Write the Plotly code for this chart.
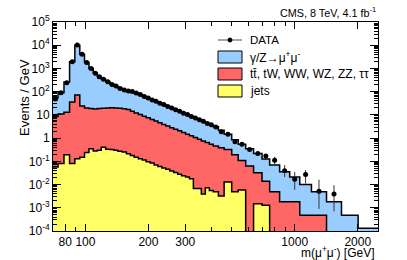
import math
import plotly.graph_objects as go

# ---------------- data ----------------
edges = [70, 74, 79, 84, 89, 94, 99, 104, 109, 114, 119, 125, 131, 137, 143, 150, 157, 164,
         171, 179, 187, 195, 204, 213, 222, 232, 242, 253, 264, 276, 288, 301, 314, 328, 343, 358,
         374, 391, 408, 432, 460, 500, 537, 583, 636, 698, 759, 847, 946, 1057, 1202, 1419, 1673,
         2009, 2500]

dy = [46.5, 79, 247, 1914, 9928, 3976, 1780, 981, 612, 431, 320.5, 250, 189.5, 155, 120.5, 101.5,
      91, 85.5, 75.8, 63.6, 54.2, 46.5, 38.6, 32.6, 27.9, 23.7, 20.1, 17.1, 14.3, 12.15, 10.25,
      8.73, 7.35, 6.24, 5.3, 4.44, 3.75, 3.15, 2.64, 1.82, 1.13, 0.66, 0.44, 0.287, 0.188, 0.111,
      0.0641, 0.0342, 0.0192, 0.00952, 0.00442, 0.0018, 0.00048, 0.00013]

ewk = [8.44, 10.92, 12.81, 35.9, 71.9, 23.85, 19.76, 18.65, 17.72, 18.7, 19.1, 19.67, 20.18, 19.7,
       19.23, 18.25, 16.79, 14.32, 12.05, 10.27, 8.685, 7.405, 6.315, 5.33, 4.54, 3.848, 3.254,
       2.762, 2.367, 2.022, 1.726, 1.449, 1.232, 1.053, 0.893, 0.756, 0.643, 0.5445, 0.455, 0.377,
       0.307, 0.185, 0.104, 0.063, 0.0305, 0.0127, 0.0049, 0.0018, 0.0018, 0.00048, 0.00048, 0, 0, 0]

jets = [0.057, 0.081, 0.19, 0.081, 0.13, 0.15, 0.24, 0.35, 0.28, 0.30, 0.40, 0.33, 0.32, 0.30,
        0.27, 0.25, 0.21, 0.18, 0.15, 0.13, 0.115, 0.095, 0.085, 0.07, 0.06, 0.052, 0.046, 0.038,
        0.033, 0.028, 0.024, 0.021, 0.018, 0.0068, 0.0068, 0.0039, 0.0073, 0.0055, 0.0049, 0.0032,
        0.013, 0.0049, 0.0058, 0, 0.0015, 0.0013, 0, 0, 0, 0, 0, 0, 0, 0]

data = [48, 90, 240, 1950, 10200, 4050, 1790, 1000, 620, 440, 340, 270, 205, 174, 138, 118, 106,
        102, 87, 75, 62, 54, 44, 38.5, 32, 28, 23, 20, 16.5, 14.5, 11.8, 10.3, 8.5, 7.4, 6.1, 5.3,
        4.3, 3.8, 3.0, 1.86, 1.45, 0.69, 0.54, 0.32, 0.22, 0.17, 0.11, 0.039, 0.017, 0.027, 0.0052,
        0.0039, None, None]

data_err_up = [0] * 41 + [0.05, 0.05, 0.04, 0.035, 0.03, 0.045, 0.03, 0.018, 0.015, 0.011, 0.0054, 0, 0]
data_err_dn = [0] * 41 + [0.05, 0.05, 0.04, 0.035, 0.03, 0.04, 0.018, 0.011, 0.016, 0.0043, 0.0032, 0, 0]

x_tick_vals = [80, 100, 200, 300, 1000, 2000]
x_tick_text = ["80", "100", "200", "300", "1000", "2000"]
y_tick_vals = [1e-4, 1e-3, 1e-2, 1e-1, 1, 10, 1e2, 1e3, 1e4, 1e5]
y_tick_text = ["10<sup>-4</sup>", "10<sup>-3</sup>", "10<sup>-2</sup>", "10<sup>-1</sup>", "1", "10",
               "10<sup>2</sup>", "10<sup>3</sup>", "10<sup>4</sup>", "10<sup>5</sup>"]

# ---------------- build stacks ----------------
FLOOR = 1e-7
s_j = [j for j in jets]
s_e = [j + e for j, e in zip(jets, ewk)]
s_t = [j + e + d for j, e, d in zip(jets, ewk, dy)]


def step(vals):
    v = [x if x > 0 else FLOOR for x in vals]
    return v + [v[-1]]


centers = [math.sqrt(a * b) for a, b in zip(edges[:-1], edges[1:])]

BLUE = "#99CCFF"
RED = "#FF6666"
YELLOW = "#FFFF66"
FONT = "Liberation Sans, Arial, Helvetica, sans-serif"

fig = go.Figure()
fig.add_trace(go.Scatter(x=edges, y=[FLOOR] * len(edges), mode="lines", line=dict(width=0),
                         showlegend=False, hoverinfo="skip"))
fig.add_trace(go.Scatter(x=edges, y=step(s_j), mode="lines", line_shape="hv",
                         line=dict(color="black", width=1.5), fill="tonexty", fillcolor=YELLOW,
                         name="jets", showlegend=False))
fig.add_trace(go.Scatter(x=edges, y=step(s_e), mode="lines", line_shape="hv",
                         line=dict(color="black", width=1.5), fill="tonexty", fillcolor=RED,
                         name="tt, tW, WW, WZ, ZZ, ττ", showlegend=False))
fig.add_trace(go.Scatter(x=edges, y=step(s_t), mode="lines", line_shape="hv",
                         line=dict(color="black", width=1.5), fill="tonexty", fillcolor=BLUE,
                         name="γ/Z→μμ", showlegend=False))
fig.add_trace(go.Scatter(x=centers, y=data, mode="markers",
                         marker=dict(color="black", size=5),
                         error_y=dict(type="data", symmetric=False, array=data_err_up,
                                      arrayminus=data_err_dn, color="#333333", thickness=1, width=0),
                         name="DATA", showlegend=False))

L, R, T, B = 53, 29, 22, 29
W, H = 407, 260
PW, PH = W - L - R, H - T - B


def px(x):
    return (x - L) / PW


def py(y):
    return (H - B - y) / PH


y_minor = [m * 10 ** d for d in range(-4, 5) for m in range(2, 10)]
x_minor = [90, 400, 500, 600, 700, 800, 900]

fig.update_layout(
    width=W, height=H, margin=dict(l=L, r=R, t=T, b=B, autoexpand=False),
    paper_bgcolor="white", plot_bgcolor="white",
    font=dict(family=FONT, size=12, color="black"),
    xaxis=dict(type="log", range=[math.log10(70), math.log10(2500)], tickvals=x_tick_vals,
               ticktext=x_tick_text, ticks="inside", ticklen=7, tickcolor="black",
               showline=True, linecolor="black", linewidth=1, mirror="allticks",
               showgrid=False, zeroline=False, tickfont=dict(size=12), automargin=False,
               minor=dict(tickvals=x_minor, ticks="inside", ticklen=4, tickcolor="black",
                          showgrid=False)),
    yaxis=dict(type="log", range=[-4, 5], tickvals=y_tick_vals, ticktext=y_tick_text,
               ticks="inside", ticklen=8, tickcolor="black", showline=True, linecolor="black",
               linewidth=1, mirror="allticks", showgrid=False, zeroline=False,
               tickfont=dict(size=12), automargin=False,
               minor=dict(tickvals=y_minor, ticks="inside", ticklen=4, tickcolor="black",
                          showgrid=False)),
)

ann = []
ann.append(dict(text="Events / GeV", xref="paper", yref="paper", x=px(15), y=py(57),
                textangle=-90, showarrow=False, font=dict(size=13)))
ann.append(dict(text="m(μ<sup>+</sup>μ<sup>-</sup>) [GeV]", xref="paper", yref="paper",
                x=px(377), y=py(252), xanchor="right", yanchor="middle", showarrow=False,
                font=dict(size=12)))
ann.append(dict(text="CMS, 8 TeV, 4.1 fb<sup>-1</sup>", xref="paper", yref="paper",
                x=px(378), y=py(12), xanchor="right", yanchor="middle", showarrow=False,
                font=dict(size=10.8)))

shapes = []
# legend
lx0, lx1, tx = 218, 242, 248
shapes.append(dict(type="line", xref="paper", yref="paper", x0=px(lx0), x1=px(lx1),
                   y0=py(40), y1=py(40), line=dict(color="#888888", width=1.5)))
shapes.append(dict(type="circle", xref="paper", yref="paper", x0=px(228), x1=px(232),
                   y0=py(38), y1=py(42), fillcolor="black", line=dict(color="black", width=1)))
ann.append(dict(text="DATA", xref="paper", yref="paper", x=px(tx), y=py(40), xanchor="left",
                yanchor="middle", showarrow=False, font=dict(size=11.5)))
rows = [(57, BLUE, "γ/Z→μ<sup>+</sup>μ<sup>-</sup>"),
        (74, RED, "tt\u0304, tW, WW, WZ, ZZ, ττ"),
        (91, YELLOW, "jets")]
for yc, col, txt in rows:
    shapes.append(dict(type="rect", xref="paper", yref="paper", x0=px(lx0), x1=px(lx1),
                       y0=py(yc - 6), y1=py(yc + 6), fillcolor=col,
                       line=dict(color="black", width=1)))
    ann.append(dict(text=txt, xref="paper", yref="paper", x=px(tx), y=py(yc), xanchor="left",
                    yanchor="middle", showarrow=False, font=dict(size=12)))

fig.update_layout(annotations=ann, shapes=shapes)
fig.write_html("out.html", config={"displayModeBar": False},
               post_script="document.body.style.margin='0px';document.body.style.padding='0px';")
